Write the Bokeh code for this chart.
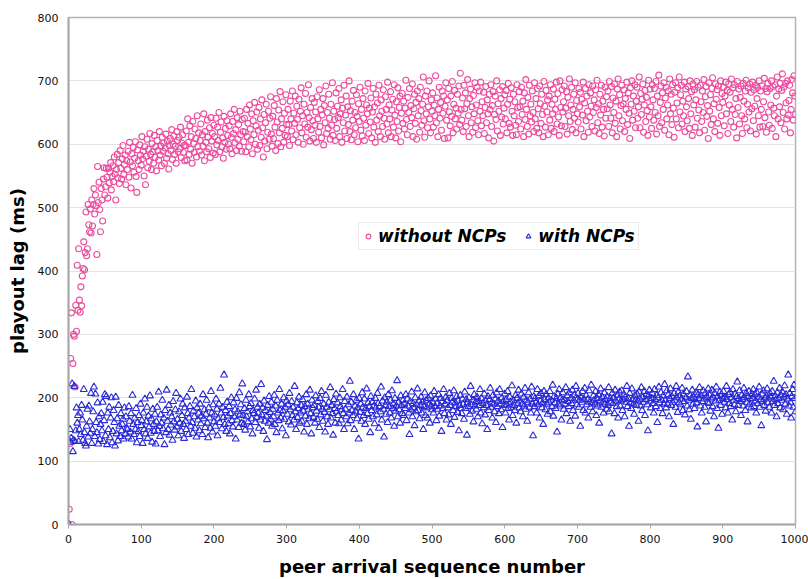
from bokeh.plotting import figure
from bokeh.embed import file_html
from bokeh.resources import INLINE
from bokeh.models import Range1d, FixedTicker

# ---- data -------------------------------------------------------------
peer_seq = list(range(1, 1001))

without_ncps = [
    24,128,262,334,0,254,300,297,217,346,305,409,338,435,354,335,375,345,392,404,
    446,402,429,493,424,435,505,473,462,498,460,512,471,505,530,490,520,503,426,565,
    508,540,497,462,530,512,479,545,563,520,533,562,548,515,562,539,556,571,528,549,
    566,541,580,553,512,560,584,547,571,538,590,562,545,577,598,552,568,583,536,574,
    560,589,548,603,572,531,585,566,595,556,578,604,549,524,591,574,560,599,583,567,
    612,577,589,550,596,536,581,608,563,592,573,617,584,560,601,588,570,614,579,596,
    558,606,590,575,620,583,597,566,611,589,602,570,594,616,578,605,585,561,598,609,
    590,623,576,600,613,584,597,570,620,606,588,611,593,627,579,602,615,587,598,574,
    598,621,575,640,603,584,629,592,612,570,636,601,587,624,609,580,645,596,618,589,
    606,632,583,615,597,648,574,620,603,588,638,611,593,626,579,642,605,617,586,630,
    612,584,641,599,627,606,650,588,619,635,596,610,578,644,603,625,592,637,614,600,
    629,593,648,611,585,636,617,655,602,623,590,642,608,631,597,652,615,589,639,620,
    604,641,619,588,655,612,633,596,662,624,607,648,585,637,615,666,600,629,651,592,
    622,658,598,640,611,670,626,580,647,605,634,663,593,619,652,608,641,675,616,597,
    644,609,661,627,590,672,635,601,654,618,683,596,640,625,667,603,649,614,678,631,
    612,655,631,598,668,640,621,684,607,649,633,676,615,660,639,603,671,626,652,689,
    618,645,600,663,632,680,611,650,627,694,642,605,658,623,672,637,609,666,630,651,
    603,675,640,619,686,628,655,610,646,672,599,661,634,692,617,650,625,679,641,608,
    663,630,697,614,652,639,606,681,625,660,642,688,612,648,670,603,657,634,693,621,
    646,676,609,659,631,700,620,653,607,668,638,685,615,650,626,678,644,604,664,636,
    690,622,655,613,672,641,606,684,630,662,648,696,617,657,635,673,610,651,688,627,
    659,603,679,638,665,620,693,645,612,670,652,628,686,641,608,675,655,632,698,618,
    662,640,683,612,654,671,627,694,646,610,667,636,689,621,658,676,604,649,680,633,
    668,624,657,701,639,615,674,650,688,628,661,642,695,612,656,679,633,666,608,684,
    645,672,619,690,653,630,663,706,637,611,676,648,684,626,659,700,640,618,670,652,
    681,627,662,645,708,634,673,612,655,690,641,666,622,684,649,676,609,660,697,638,
    670,610,688,651,629,676,644,699,618,663,685,640,657,624,679,649,692,631,712,655,
    638,673,620,693,656,681,628,664,702,645,612,672,687,634,659,619,677,648,697,626,
    662,690,637,615,684,652,698,629,667,645,682,617,658,691,634,670,648,610,679,655,
    694,628,661,683,605,647,676,639,700,621,664,652,686,614,672,643,691,632,657,678,
    640,685,618,663,696,633,671,627,689,652,614,679,645,667,630,615,694,658,636,683,
    659,624,690,647,668,612,681,639,702,655,628,674,616,693,645,663,635,684,650,620,
    697,640,672,625,688,656,618,692,664,633,679,647,612,699,660,627,685,651,670,615,
    676,638,694,625,663,648,687,620,671,655,698,632,680,643,614,700,658,629,686,651,
    667,692,628,657,683,616,674,645,703,636,662,690,623,655,679,641,697,618,669,648,
    635,688,659,682,624,671,646,698,612,665,688,637,676,652,619,694,643,681,660,628,
    692,650,670,621,686,658,701,634,664,617,679,646,693,627,668,655,613,690,641,675,
    656,684,628,699,662,641,691,618,673,650,695,633,668,612,687,703,645,678,624,661,
    693,637,664,686,620,672,655,698,631,681,649,609,689,663,700,638,676,652,694,626,
    668,690,641,659,706,626,680,647,671,695,619,662,685,636,674,653,614,701,643,687,
    659,625,694,670,638,688,650,699,616,676,645,709,628,666,692,634,681,655,697,622,
    673,690,640,662,684,615,703,648,679,631,694,657,611,682,697,640,665,689,626,706,
    651,678,693,632,668,645,698,620,687,659,637,691,672,625,700,648,683,614,695,662,
    686,627,670,699,641,690,654,618,693,667,636,684,650,702,622,675,691,644,661,609,
    697,652,678,631,688,705,640,664,620,695,671,686,633,692,658,614,700,645,680,666,
    690,629,676,698,648,685,617,695,662,682,636,703,655,689,627,694,647,672,610,699,
    658,687,632,674,692,645,617,696,668,640,684,701,626,663,689,651,695,621,682,656,
    698,637,686,660,693,616,672,689,645,700,627,684,655,692,628,667,704,642,688,619,
    683,696,651,630,688,662,700,625,691,657,645,694,612,676,706,640,687,659,696,634,
    685,711,650,690,624,696,665,640,700,646,669,693,618,655,702,681,638,708,676,647,
]

with_ncps = [
    0,150,130,136,222,115,133,218,131,148,184,160,172,131,150,176,142,188,165,133,
    213,145,128,124,155,182,138,187,162,144,207,128,150,178,217,139,206,161,145,192,
    127,170,134,158,175,148,193,131,164,205,140,202,126,176,150,185,137,168,200,129,
    147,180,161,124,201,143,167,132,188,155,139,175,148,158,166,135,184,143,170,152,
    150,138,186,163,146,175,135,204,158,142,168,150,183,129,161,147,172,139,190,156,
    164,128,176,150,198,143,162,185,136,171,154,203,144,167,130,182,158,147,174,127,
    162,185,148,209,155,139,173,160,196,151,168,126,180,145,212,163,150,188,141,176,
    157,170,133,194,162,149,181,207,154,166,140,178,160,198,147,172,190,158,136,184,
    163,150,201,175,142,168,186,155,213,161,144,179,170,152,195,138,184,165,176,148,
    190,159,171,142,205,167,181,153,174,196,160,137,184,168,152,210,176,146,189,162,
    173,155,198,182,140,167,190,161,215,176,151,185,169,236,158,180,147,193,171,159,
    186,143,175,200,164,154,192,170,181,135,199,165,178,153,208,174,189,160,222,172,
    158,183,149,196,170,178,162,205,186,154,191,167,143,180,175,198,161,212,169,185,
    176,152,190,165,221,173,184,147,195,163,180,171,134,188,160,202,177,166,193,155,
    182,170,204,158,187,145,196,176,164,213,180,168,190,151,179,200,166,185,140,195,
    174,189,162,207,181,157,194,172,185,165,218,178,150,192,169,183,201,160,176,188,
    163,197,179,146,186,171,205,158,190,182,167,212,175,143,196,184,169,188,160,203,
    179,166,194,185,153,199,173,210,182,163,190,177,146,204,185,170,158,193,181,216,
    168,188,175,141,197,183,160,206,178,192,172,159,200,186,165,181,213,175,150,194,
    182,170,201,159,189,176,226,164,193,180,172,205,150,187,178,196,167,184,135,199,
    177,190,163,208,185,172,198,158,183,214,175,192,166,186,145,202,180,193,170,187,
    159,199,184,173,207,191,152,186,178,217,165,195,182,138,200,188,174,193,161,205,
    186,176,196,168,211,183,190,155,199,179,187,227,170,193,181,160,203,188,175,196,
    172,190,183,205,164,198,187,176,142,194,181,209,170,191,184,156,200,178,189,214,
    180,195,167,188,201,176,193,150,186,208,172,196,184,168,199,190,160,203,187,181,
    193,176,210,186,198,164,191,182,205,171,187,199,147,194,183,213,175,190,201,165,
    196,184,173,207,188,158,199,193,180,211,169,192,186,202,177,195,148,188,204,183,
    175,198,190,166,209,183,197,141,192,186,200,174,218,189,179,196,162,205,187,193,
    182,201,170,194,188,213,176,199,159,191,184,206,173,195,188,150,202,180,197,215,
    185,192,168,204,190,178,198,161,208,186,195,175,213,190,181,200,153,194,188,206,
    176,197,189,210,183,165,201,193,185,219,172,196,188,180,204,160,199,191,212,184,
    195,178,206,190,170,201,187,215,182,196,163,193,208,185,198,176,217,190,140,202,
    186,199,192,176,213,189,203,168,195,207,184,192,158,210,197,181,205,190,174,200,
    193,210,178,196,186,220,171,202,192,183,199,146,206,190,213,187,200,165,196,208,
    182,197,190,216,175,203,194,186,208,163,199,191,212,180,196,204,171,218,189,198,
    207,185,196,155,201,193,210,180,198,215,176,204,189,197,168,211,193,185,220,192,
    178,203,196,190,210,172,199,187,205,160,196,214,185,201,193,176,208,190,197,182,
    202,188,216,178,199,193,143,207,191,200,175,212,195,186,204,168,198,209,187,195,
    211,180,197,205,170,201,193,218,186,199,155,207,192,183,214,197,190,174,203,196,
    188,206,195,163,209,198,187,216,180,201,193,210,172,197,205,189,148,203,212,195,
    184,199,207,191,176,213,197,186,204,161,200,217,192,183,208,196,175,203,190,221,
    196,184,211,190,205,170,199,214,188,202,193,158,207,196,185,218,200,177,209,192,
    203,189,198,215,180,206,194,173,200,210,187,233,196,181,204,166,199,212,190,201,
    183,197,208,192,154,205,199,216,187,203,176,194,211,198,185,207,162,201,193,214,
    191,204,179,198,212,186,200,170,207,195,217,183,202,152,196,209,188,205,174,199,
    210,193,201,184,218,197,176,205,191,208,186,200,165,213,196,189,206,178,202,225,
    188,199,211,194,172,204,197,187,215,200,180,207,193,162,202,210,190,198,184,206,
    199,213,186,205,195,176,208,191,201,217,185,197,156,206,194,211,188,200,179,203,
    214,192,198,185,207,201,176,210,194,226,188,203,197,170,208,191,199,215,184,204,
    196,209,181,201,219,190,205,174,198,236,187,207,193,168,202,213,185,220,199,178,
]

x_ticks = [0, 100, 200, 300, 400, 500, 600, 700, 800, 900, 1000]
y_ticks = [0, 100, 200, 300, 400, 500, 600, 700, 800]

PINK = "#ea4d9e"
BLUE = "#2b2bd4"
FONT = "DejaVu Sans"

p = figure(width=808, height=579, output_backend="svg", toolbar_location=None,
           x_range=Range1d(0, 1000), y_range=Range1d(0, 800),
           min_border_left=68, min_border_right=13, min_border_top=17,
           min_border_bottom=53)

p.scatter(peer_seq, without_ncps, marker="circle", size=6, fill_color=None,
          line_color=PINK, line_width=1.1, legend_label="without NCPs")
p.scatter(peer_seq, with_ncps, marker="triangle", size=7, fill_color=None,
          line_color=BLUE, line_width=1.1, legend_label="with NCPs")

p.outline_line_color = "#b4b4b4"
p.outline_line_width = 1.5
p.xgrid.grid_line_color = None
p.ygrid.grid_line_color = "#e2e2e2"
p.ygrid.grid_line_width = 1.2
p.xaxis.ticker = FixedTicker(ticks=x_ticks)
p.yaxis.ticker = FixedTicker(ticks=y_ticks)

for ax in (p.xaxis[0], p.yaxis[0]):
    ax.axis_line_color = "#a8a8a8"
    ax.axis_line_width = 2
    ax.major_label_text_font = FONT
    ax.major_label_text_font_size = "11px"
    ax.major_label_text_color = "#111111"
    ax.minor_tick_line_color = None
    ax.axis_label_text_font = FONT
    ax.axis_label_text_font_style = "bold"
    ax.axis_label_text_font_size = "18px"
    ax.axis_label_text_color = "#000000"

p.xaxis.axis_label = "peer arrival sequence number"
p.yaxis.axis_label = "playout lag (ms)"
p.xaxis.major_tick_line_color = "#a8a8a8"
p.xaxis.major_tick_out = 4
p.xaxis.major_tick_in = 0
p.xaxis.major_label_standoff = 6
p.xaxis.axis_label_standoff = 10
p.yaxis.major_tick_line_color = None
p.yaxis.major_tick_out = 0
p.yaxis.major_tick_in = 0
p.yaxis.major_label_standoff = 10
p.yaxis.axis_label_standoff = 7

leg = p.legend[0]
leg.orientation = "horizontal"
leg.location = (290, 274)
leg.label_text_font = FONT
leg.label_text_font_style = "bold italic"
leg.label_text_font_size = "17px"
leg.label_text_color = "#000000"
leg.glyph_width = 12
leg.glyph_height = 14
leg.label_standoff = 4
leg.spacing = 16
leg.padding = 3
leg.margin = 0
leg.border_line_color = "#d6d6d6"
leg.border_line_width = 1
leg.background_fill_color = "white"
leg.background_fill_alpha = 1.0

open("out.html", "w").write(file_html(p, INLINE))
